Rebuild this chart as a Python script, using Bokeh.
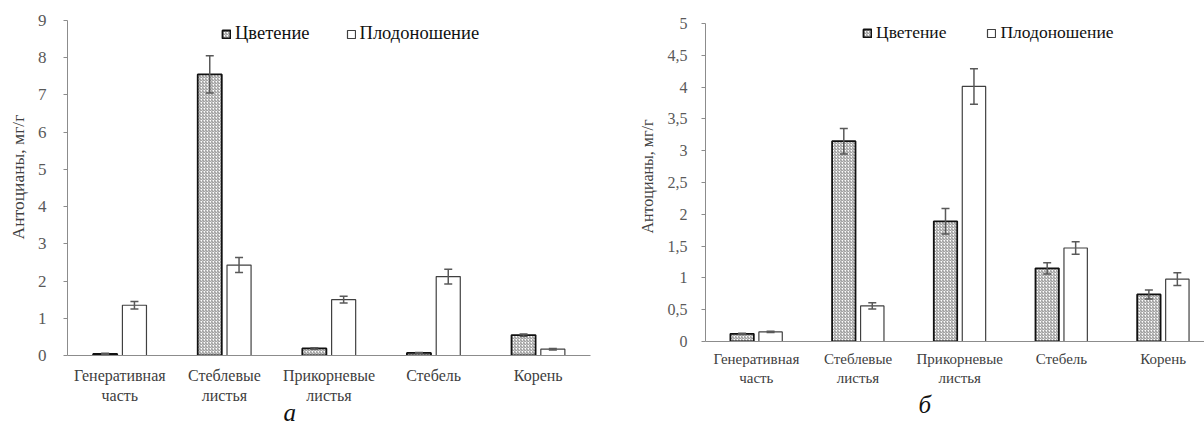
import numpy as np
from bokeh.plotting import figure
from bokeh.models import (Range1d, FixedTicker, Legend, LegendItem, Whisker, TeeHead,
                          ColumnDataSource, Title)
from bokeh.layouts import row
from bokeh.embed import file_html
from bokeh.resources import INLINE

# ---------------- data ----------------
categories = ["Генеративная\nчасть", "Стеблевые\nлистья", "Прикорневые\nлистья", "Стебель", "Корень"]
series_names = ["Цветение", "Плодоношение"]
y_axis_title = "Антоцианы, мг/г"
panel_letters = ["а", "б"]

a_flowering = [0.04, 7.55, 0.19, 0.07, 0.55]
a_flowering_err = [0.02, 0.50, 0.02, 0.01, 0.03]
a_fruiting = [1.35, 2.43, 1.50, 2.12, 0.17]
a_fruiting_err = [0.10, 0.20, 0.09, 0.20, 0.02]

b_flowering = [0.12, 3.15, 1.89, 1.15, 0.74]
b_flowering_err = [0.01, 0.20, 0.20, 0.09, 0.07]
b_fruiting = [0.15, 0.56, 4.01, 1.47, 0.98]
b_fruiting_err = [0.01, 0.05, 0.28, 0.10, 0.10]

a_yticks = [0, 1, 2, 3, 4, 5, 6, 7, 8, 9]
a_ytick_labels = ["0", "1", "2", "3", "4", "5", "6", "7", "8", "9"]
b_yticks = [0, 0.5, 1, 1.5, 2, 2.5, 3, 3.5, 4, 4.5, 5]
b_ytick_labels = ["0", "0,5", "1", "1,5", "2", "2,5", "3", "3,5", "4", "4,5", "5"]

# ---------------- style ----------------
FONT = "Liberation Serif"
BAR_W = 0.23
OFFSET = 0.14
AXIS_COLOR = "#8c8c8c"
TICK_COLOR = "#595959"
LABEL_COLOR = "#404040"
ERR_COLOR = "#595959"
NBSP = "\u00a0"


def make_panel(letter, flw, flw_err, frt, frt_err, yticks, ylabels, y_max,
               width, height, borders, x_end, fs, ylab_standoffs, xlab_standoff,
               legend_loc, legend_spacing, letter_offset, letter_standoff, title_shift):
    bl, br, bt, bb = borders
    p = figure(width=width, height=height,
               x_range=Range1d(-0.5, x_end), y_range=Range1d(0, y_max),
               output_backend="svg", toolbar_location=None,
               min_border_left=bl, min_border_right=br,
               min_border_top=bt, min_border_bottom=bb)
    p.frame_align = False
    p.xgrid.visible = False
    p.ygrid.visible = False
    p.outline_line_color = None
    p.background_fill_color = "white"
    p.border_fill_color = "white"

    idx = np.arange(len(categories))
    flw = np.array(flw, dtype=float)
    frt = np.array(frt, dtype=float)
    flw_err = np.array(flw_err, dtype=float)
    frt_err = np.array(frt_err, dtype=float)
    src_f = ColumnDataSource(dict(x=idx - OFFSET, top=flw, upper=flw + flw_err, lower=flw - flw_err))
    src_p = ColumnDataSource(dict(x=idx + OFFSET, top=frt, upper=frt + frt_err, lower=frt - frt_err))

    r_f = p.vbar(x="x", top="top", bottom=0, width=BAR_W, source=src_f,
                 fill_color="white", hatch_pattern="right_diagonal_line",
                 hatch_color="#7a7a7a", hatch_scale=3, hatch_weight=0.9,
                 line_color="#111111", line_width=1.8)
    r_p = p.vbar(x="x", top="top", bottom=0, width=BAR_W, source=src_p,
                 fill_color="white", line_color="#404040", line_width=1.2)

    for src in (src_f, src_p):
        w = Whisker(source=src, base="x", upper="upper", lower="lower",
                    line_color=ERR_COLOR, line_width=1.5, level="annotation",
                    upper_head=TeeHead(size=8, line_color=ERR_COLOR, line_width=1.5),
                    lower_head=TeeHead(size=8, line_color=ERR_COLOR, line_width=1.5))
        p.add_layout(w)

    # y axis
    ya = p.yaxis[0]
    ya.ticker = FixedTicker(ticks=yticks)
    ya.major_label_overrides = {t: l for t, l in zip(yticks, ylabels)}
    ya.axis_line_color = AXIS_COLOR
    ya.major_tick_line_color = AXIS_COLOR
    ya.major_tick_out = 4
    ya.major_tick_in = 0
    ya.minor_tick_line_color = None
    ya.major_label_text_font = FONT
    ya.major_label_text_font_size = f"{fs['ytick']}px"
    ya.major_label_text_color = TICK_COLOR
    ya.major_label_standoff = ylab_standoffs[0]
    ya.axis_label = NBSP * title_shift + y_axis_title
    ya.axis_label_text_font = FONT
    ya.axis_label_text_font_style = "normal"
    ya.axis_label_text_font_size = f"{fs['title']}px"
    ya.axis_label_text_color = LABEL_COLOR
    ya.axis_label_standoff = ylab_standoffs[1]

    # x axis
    xa = p.xaxis[0]
    xa.ticker = FixedTicker(ticks=list(idx))
    xa.major_label_overrides = {int(i): c for i, c in zip(idx, categories)}
    xa.axis_line_color = AXIS_COLOR
    xa.major_tick_line_color = None
    xa.major_tick_out = 0
    xa.major_tick_in = 0
    xa.minor_tick_line_color = None
    xa.major_label_text_font = FONT
    xa.major_label_text_font_size = f"{fs['xtick']}px"
    xa.major_label_text_color = LABEL_COLOR
    xa.major_label_standoff = xlab_standoff

    legend = Legend(items=[LegendItem(label=series_names[0], renderers=[r_f]),
                           LegendItem(label=series_names[1], renderers=[r_p])],
                    orientation="horizontal", location=legend_loc,
                    glyph_width=10, glyph_height=10, label_standoff=4,
                    spacing=legend_spacing, padding=0, margin=0,
                    border_line_color=None, background_fill_alpha=0,
                    label_text_font=FONT, label_text_font_size=f"{fs['legend']}px",
                    label_text_color="#111111")
    p.add_layout(legend)

    # panel letter below the category labels
    p.add_layout(Title(text=letter, align="left", offset=letter_offset,
                       standoff=letter_standoff, text_font=FONT,
                       text_font_style="italic", text_font_size="25px",
                       text_color="#111111"), "below")
    return p


p1 = make_panel(panel_letters[0], a_flowering, a_flowering_err, a_fruiting, a_fruiting_err,
                a_yticks, a_ytick_labels, 9,
                width=608, height=427, borders=(67, 18, 20, 72), x_end=4.5,
                fs=dict(ytick=17, xtick=16, title=17.5, legend=18.5),
                ylab_standoffs=(17, 7), xlab_standoff=11,
                legend_loc=(154, 311), legend_spacing=36,
                letter_offset=216, letter_standoff=-20, title_shift=5)

p2 = make_panel(panel_letters[1], b_flowering, b_flowering_err, b_fruiting, b_fruiting_err,
                b_yticks, b_ytick_labels, 5,
                width=596, height=427, borders=(97, 0, 23, 86), x_end=4.407,
                fs=dict(ytick=16, xtick=15, title=16, legend=17.5),
                ylab_standoffs=(14, 9), xlab_standoff=9,
                legend_loc=(157, 298), legend_spacing=40,
                letter_offset=213, letter_standoff=0, title_shift=3)

layout = row(p1, p2)
open("out.html", "w").write(file_html(layout, INLINE))
